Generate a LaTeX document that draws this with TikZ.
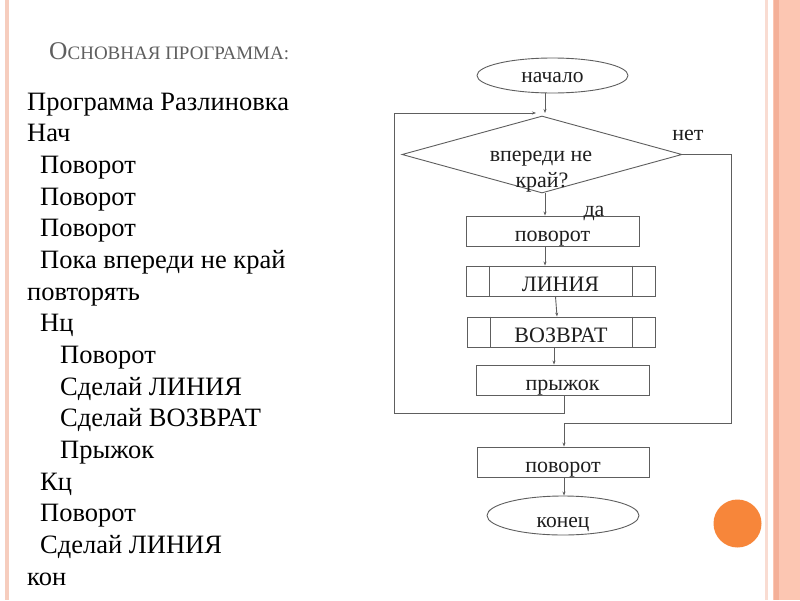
\documentclass[tikz,border=0pt]{standalone}
\usepackage{fontspec}
\setmainfont{Liberation Serif}
\usetikzlibrary{shapes.geometric,arrows.meta}
\definecolor{lnc}{HTML}{5E5E5E}
\definecolor{txtc}{HTML}{1E1E1E}
\definecolor{ttlc}{HTML}{5F5F5F}
\definecolor{salmon}{HTML}{FCC6B2}
\definecolor{salmondk}{HTML}{F4B098}
\definecolor{pinkln}{HTML}{F6CDBE}
\definecolor{orangec}{HTML}{F7863A}
\begin{document}
\begin{tikzpicture}[x=1pt,y=-1pt,
  fbox/.style={draw=lnc, line width=0.9pt, minimum height=30pt, inner sep=0pt, text=txtc,
    text height=20pt, text depth=0pt, font=\fontsize{22}{26}\selectfont},
  fell/.style={ellipse, draw=lnc, line width=0.9pt, inner sep=0pt, text=txtc, text depth=0pt,
    font=\fontsize{21.5}{25}\selectfont},
  arr/.style={draw=lnc, line width=0.9pt, -{Stealth[length=4pt,width=3pt]}},
  ltxt/.style={anchor=base west, inner sep=0pt, text=black, font=\fontsize{26.5}{31}\selectfont},
  lbl/.style={anchor=base, inner sep=0pt, text=txtc, font=\fontsize{22}{26}\selectfont}]
\useasboundingbox (0,0) rectangle (800,600);
\fill[white] (0,0) rectangle (800,600);
% decorations
\fill[pinkln] (5,0) rectangle (9,600);
\fill[pinkln!70!white] (765,0) rectangle (768,600);
\fill[salmon] (773,0) rectangle (800,600);
\fill[salmondk] (774,0) rectangle (779,600);
\fill[orangec] (737.5,523.5) circle (24);
% title
\node[anchor=base west, inner sep=0pt, text=ttlc] (title) at (49,59)
  {\fontsize{25.5}{28}\selectfont О\fontsize{19}{20}\selectfont СНОВНАЯ ПРОГРАММА:};
% program text
\foreach \xx/\tt [count=\i from 0] in {
  27/Программа Разлиновка, 27/Нач, 40/Поворот, 40/Поворот, 40/Поворот,
  40/Пока впереди не край, 27/повторять, 40/Нц, 60/Поворот,
  60/Сделай ЛИНИЯ, 60/Сделай ВОЗВРАТ, 60/Прыжок, 40/Кц, 40/Поворот,
  40/Сделай ЛИНИЯ, 27/кон}
  \node[ltxt] (p\i) at (\xx, 110+31.67*\i) {\tt};
% flowchart
\node[fell, minimum width=151pt, minimum height=35pt, text height=13pt] (nach) at (552.5,75.5) {начало};
\node[diamond, draw=lnc, line width=0.9pt, minimum width=280pt, minimum height=77pt,
      inner sep=0pt] (dia) at (542,154.5) {};
\node[lbl] (dia1) at (541,161) {впереди не};
\node[lbl] (dia2) at (542,187) {край?};
\node[fbox, minimum width=173pt] (pov1) at (552.5,231) {поворот};
\node[fbox, minimum width=189pt] (lin) at (560.5,281) {ЛИНИЯ};
\node[fbox, minimum width=188pt] (voz) at (561,332) {ВОЗВРАТ};
\node[fbox, minimum width=173pt] (jump) at (562.5,380) {прыжок};
\node[fbox, minimum width=172pt] (pov2) at (563,462) {поворот};
\node[fell, minimum width=152pt, minimum height=39pt, text height=23pt] (kon) at (563,515.5) {конец};
% inner lines of predefined processes
\foreach \n in {lin,voz}{
  \draw[draw=lnc, line width=0.9pt] ([xshift=23.5pt]\n.north west) -- ([xshift=23.5pt]\n.south west);
  \draw[draw=lnc, line width=0.9pt] ([xshift=-23pt]\n.north east) -- ([xshift=-23pt]\n.south east);
}
% labels
\node[lbl] (net) at (688,140) {нет};
\node[lbl] (da) at (594,216) {да};
% coordinates
\coordinate (ax) at (545,0);
\coordinate (top) at (545,113);
\coordinate (lpA) at (564,413);
\coordinate (lpB) at (394,413);
\coordinate (lpC) at (394,113);
\coordinate (lpD) at (536,113);
\coordinate (nA) at (731,154.5);
\coordinate (nB) at (731,423);
\coordinate (nC) at (564,423);
% connectors
\draw[arr] (nach.south -| ax) -- (top);
\draw[arr] (dia.south -| ax) -- (pov1.north -| ax);
\draw[arr] (pov1.south -| ax) -- (lin.north -| ax);
\draw[arr] ([xshift=-5pt]lin.south) -- ([xshift=-4pt]voz.north);
\draw[arr] ([xshift=-7pt]voz.south) -- ([xshift=-7pt]voz.south |- jump.north);
\draw[arr] (jump.south -| lpA) -- (lpA) -- (lpB) -- (lpC) -- (lpD);
\draw[arr] (dia.east) -- (nA) -- (nB) -- (nC) -- (pov2.north -| nC);
\draw[arr] (pov2.south -| nC) -- (kon.north -| nC);
\end{tikzpicture}
\end{document}
